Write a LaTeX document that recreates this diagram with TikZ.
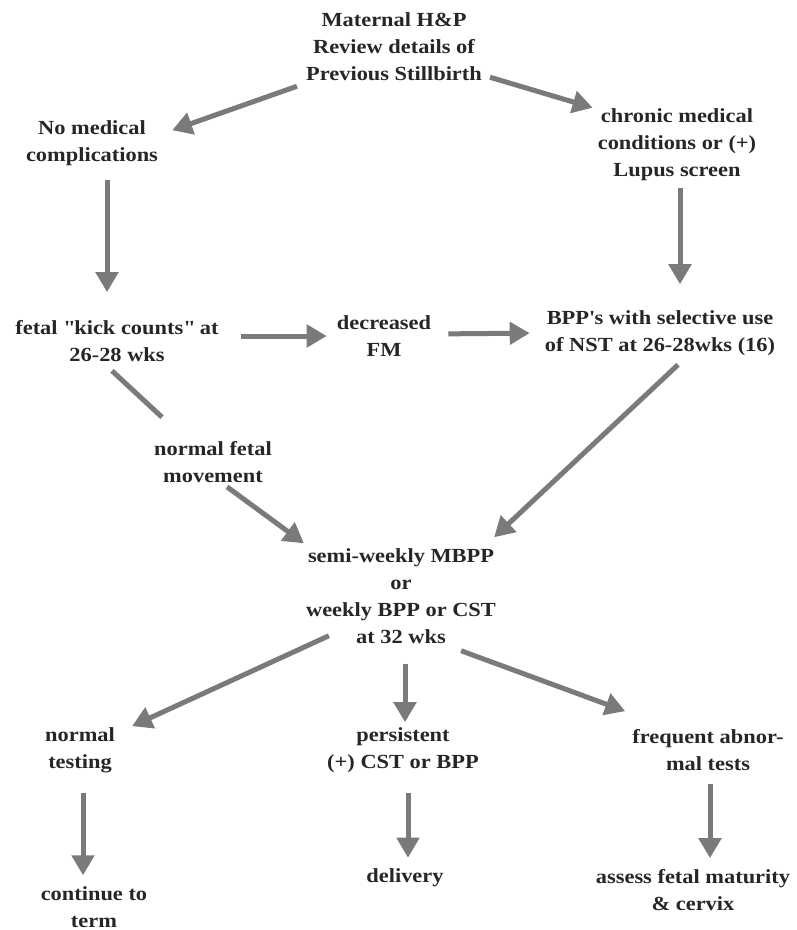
\documentclass[tikz,border=0pt]{standalone}
\usepackage{fontspec}
\setmainfont{Liberation Serif}[FakeStretch=1.12]
\usepackage{xcolor}
\usepackage{tikz}
\usetikzlibrary{arrows.meta}

\definecolor{txtgray}{HTML}{262626}
\definecolor{arrgray}{HTML}{7A7A7A}

\begin{document}
\begin{tikzpicture}[x=1pt,y=-1pt,
		every node/.style={align=center,inner sep=0pt,text=txtgray,
			font=\bfseries\fontsize{20}{27}\selectfont}]
		\useasboundingbox (0,0) rectangle (796,930);
		\node (top) at (394,47) {Maternal H\&P\\Review details of\\Previous Stillbirth};
		\node (nomed) at (92,143) {No medical\\complications};
		\node (chronic) at (677,145) {chronic medical\\conditions or (+)\\Lupus screen};
		\node (kick) at (117,341) {fetal \textquotedbl kick counts\textquotedbl{} at\\26-28 wks};
		\node (dec) at (384,336) {decreased\\FM};
		\node (bpp) at (660,333) {BPP\textquotesingle s with selective use\\of NST at 26-28wks (16)};
		\node (normfm) at (213,462) {normal fetal\\movement};
		\node (semi) at (401,596) {semi-weekly MBPP\\or\\weekly BPP or CST\\at 32 wks};
		\node (normtest) at (80,750) {normal\\testing};
		\node (persist) at (403,750) {persistent\\(+) CST or BPP};
		\node (freq) at (708,750) {frequent abnor-\\mal tests};
		\node (cont) at (94,907) {continue to\\term};
		\node (deliv) at (405,878) {delivery};
		\node (assess) at (693,890) {assess fetal maturity\\\& cervix};
		%
		\path[->,color=arrgray,line width=5pt,>={Triangle[length=20pt,width=22pt]}]
		([xshift=-9pt,yshift=-5pt]top.south west) edge ([xshift=14pt,yshift=-10pt]nomed.north east)
		([xshift=8pt,yshift=4pt]top.south east) edge ([xshift=-5pt,yshift=1pt]chronic.north west)
		([xshift=15pt]nomed.south) edge[shorten <=14pt,shorten >=28pt] ([xshift=-10pt]kick.north)
		([xshift=3pt]chronic.south) edge[shorten <=7pt,shorten >=26pt] ([xshift=20pt]bpp.north)
		([yshift=5pt]kick.east) edge[shorten <=22pt,shorten >=10pt] (dec.west)
		([yshift=2pt]dec.east) edge[shorten <=17pt,shorten >=15pt] (bpp.west)
		([xshift=-5pt,yshift=-9pt]kick.south) edge[-] ([xshift=8pt,yshift=24pt]normfm.north west)
		([xshift=14pt,yshift=-4pt]normfm.south) edge ([xshift=-2pt,yshift=5pt]semi.north west)
		([xshift=18pt,yshift=-9pt]bpp.south) edge ([xshift=-2pt,yshift=11pt]semi.north east)
		([xshift=23pt,yshift=8pt]semi.south west) edge ([xshift=17pt,yshift=1pt]normtest.north east)
		([xshift=4pt]semi.south) edge[shorten <=20pt,shorten >=5pt] ([xshift=2pt]persist.north)
		([xshift=-35pt,yshift=-7pt]semi.south east) edge ([xshift=-7pt,yshift=18pt]freq.north west)
		([xshift=3pt]normtest.south) edge[shorten <=20pt,shorten >=11pt] ([xshift=-11pt]cont.north)
		([xshift=5pt]persist.south) edge[shorten <=20pt,shorten >=11pt] ([xshift=3pt]deliv.north)
		([xshift=2pt]freq.south) edge[shorten <=13pt,shorten >=11pt] ([xshift=17pt]assess.north);
	\end{tikzpicture}
\end{document}
